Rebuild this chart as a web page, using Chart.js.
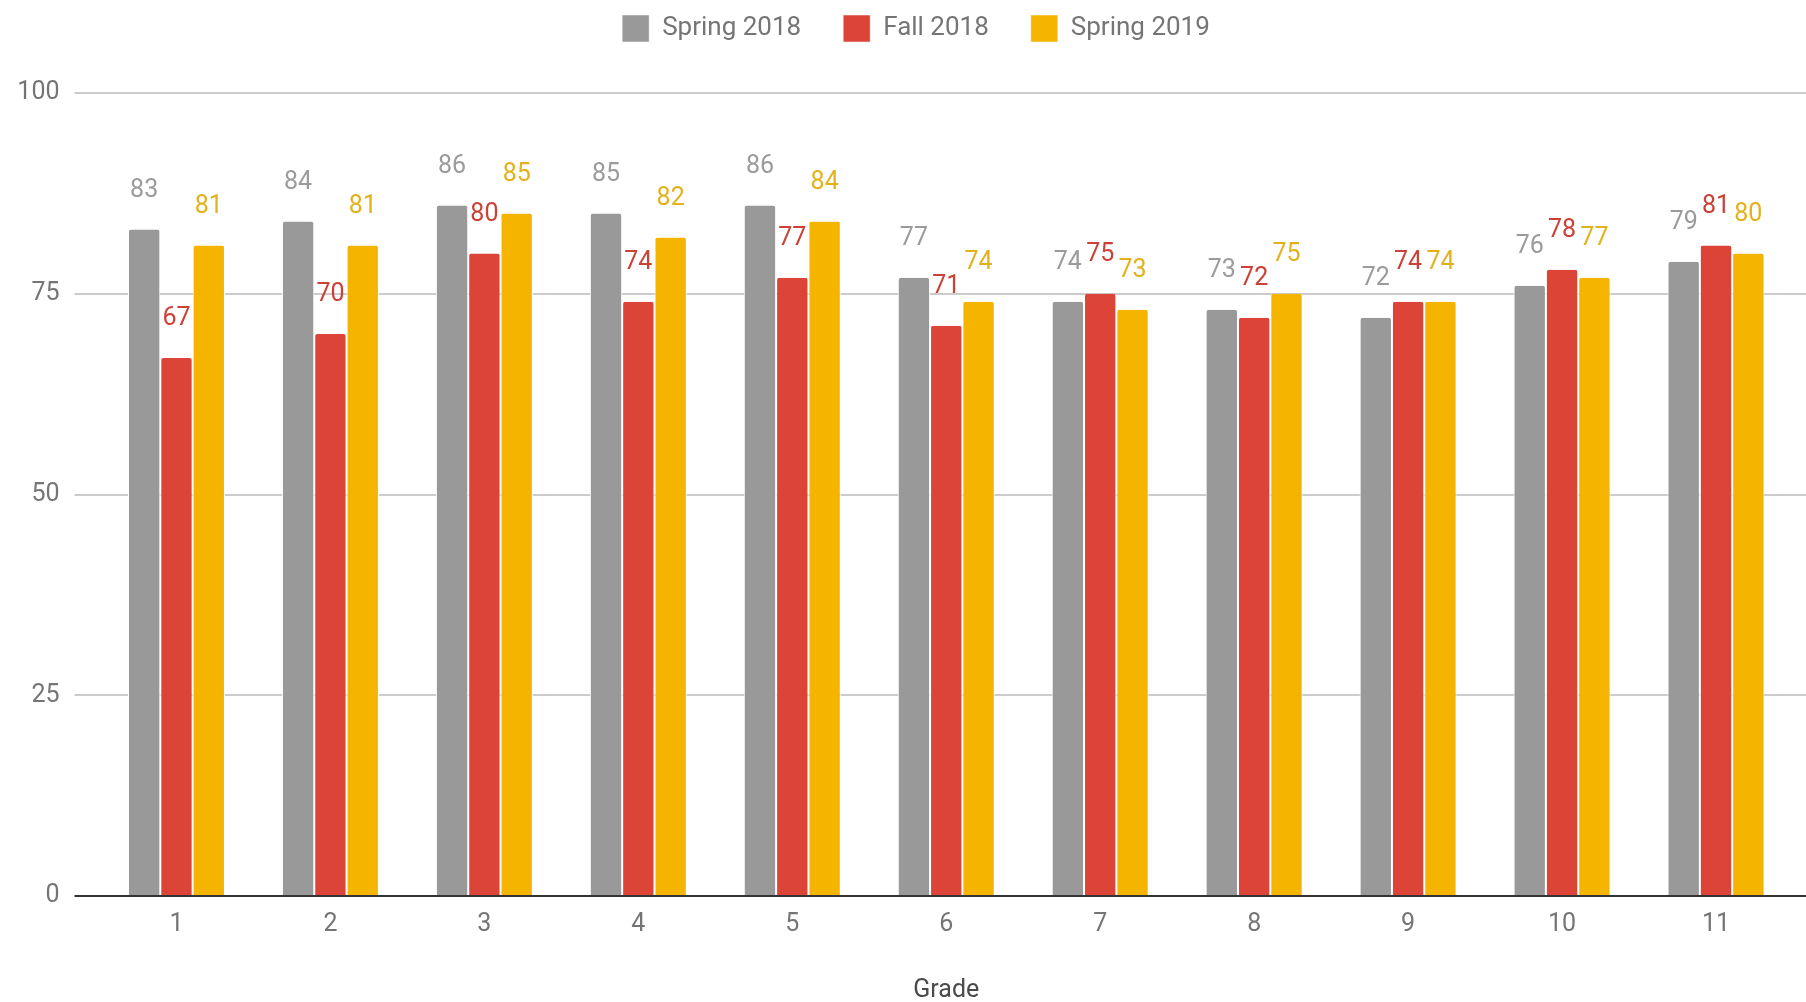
<!DOCTYPE html>
<html>
<head>
<meta charset="utf-8">
<script src="https://cdn.jsdelivr.net/npm/chart.js@4"></script>
<style>
  html, body { margin: 0; padding: 0; background: #ffffff; }
  #wrap { width: 1806px; height: 1002px; position: relative; }
</style>
</head>
<body>
<div id="wrap"><canvas id="c"></canvas></div>
<script>
const grades = ['1', '2', '3', '4', '5', '6', '7', '8', '9', '10', '11'];
const spring2018 = [83, 84, 86, 85, 86, 77, 74, 73, 72, 76, 79];
const fall2018 = [67, 70, 80, 74, 77, 71, 75, 72, 74, 78, 81];
const spring2019 = [81, 81, 85, 82, 84, 74, 73, 75, 74, 77, 80];
const yTicks = [0, 25, 50, 75, 100];

const FONT = 'Roboto, "Noto Sans", sans-serif';
const gridColor = (c) => (c.tick && c.tick.value === 0) ? '#333333' : '#cccccc';

const labelColors = ['#9b9b9b', '#cc4136', '#e2b11c'];

const barLabels = {
  id: 'barLabels',
  afterDatasetsDraw(chart) {
    const ctx = chart.ctx;
    ctx.save();
    ctx.font = '25px ' + FONT;
    ctx.textAlign = 'center';
    ctx.textBaseline = 'middle';
    chart.data.datasets.forEach((ds, di) => {
      const meta = chart.getDatasetMeta(di);
      ctx.fillStyle = labelColors[di];
      meta.data.forEach((el, i) => {
        ctx.fillText(String(ds.data[i]), el.x, el.y - 39);
      });
    });
    ctx.restore();
  }
};

const barStyle = {
  borderColor: '#ffffff',
  borderWidth: { top: 0, right: 1, bottom: 0, left: 1 },
  borderSkipped: 'bottom',
  borderRadius: { topLeft: 3, topRight: 3, bottomLeft: 0, bottomRight: 0 },
  categoryPercentage: 0.63,
  barPercentage: 1.0
};

new Chart(document.getElementById('c'), {
  type: 'bar',
  data: {
    labels: grades,
    datasets: [
      Object.assign({ label: 'Spring 2018', data: spring2018, backgroundColor: '#999999' }, barStyle),
      Object.assign({ label: 'Fall 2018', data: fall2018, backgroundColor: '#db4437' }, barStyle),
      Object.assign({ label: 'Spring 2019', data: spring2019, backgroundColor: '#f4b400' }, barStyle)
    ]
  },
  options: {
    responsive: true,
    maintainAspectRatio: false,
    animation: false,
    devicePixelRatio: 1,
    layout: { padding: { left: 0, right: -26, top: -27, bottom: 0 } },
    plugins: {
      tooltip: { enabled: false },
      legend: {
        position: 'top',
        align: 'center',
        labels: {
          boxWidth: 27,
          boxHeight: 27,
          padding: 42,
          color: '#757575',
          font: { family: FONT, size: 26 }
        }
      }
    },
    scales: {
      xTop: {
        type: 'category',
        position: 'top',
        display: true,
        grid: { display: false, drawTicks: false },
        border: { display: false },
        ticks: { display: false },
        afterFit: (s) => { s.height = 41; }
      },
      x: {
        position: 'bottom',
        grid: { display: false, drawTicks: false, tickLength: 0 },
        border: { display: false },
        ticks: { color: '#757575', padding: 14, font: { family: FONT, size: 25 } },
        title: {
          display: true,
          text: 'Grade',
          color: '#4a4a4a',
          padding: { top: 0, bottom: -4 },
          font: { family: FONT, size: 25 }
        },
        afterFit: (s) => { s.height = 106; }
      },
      y: {
        position: 'left',
        min: 0,
        max: 100,
        afterBuildTicks: (s) => { s.ticks = yTicks.map(v => ({ value: v })); },
        grid: { color: gridColor, lineWidth: 2, drawTicks: true, tickLength: 25 },
        border: { display: false },
        ticks: { color: '#757575', padding: 15, font: { family: FONT, size: 25 } },
        afterFit: (s) => { s.width = 99.5; }
      },
      yRight: {
        position: 'right',
        min: 0,
        max: 100,
        afterBuildTicks: (s) => { s.ticks = yTicks.map(v => ({ value: v })); },
        grid: { color: gridColor, lineWidth: 2, drawOnChartArea: false, drawTicks: true, tickLength: 13 },
        border: { display: false },
        ticks: { display: false },
        afterFit: (s) => { s.width = 39; }
      }
    }
  },
  plugins: [barLabels]
});
</script>
</body>
</html>
